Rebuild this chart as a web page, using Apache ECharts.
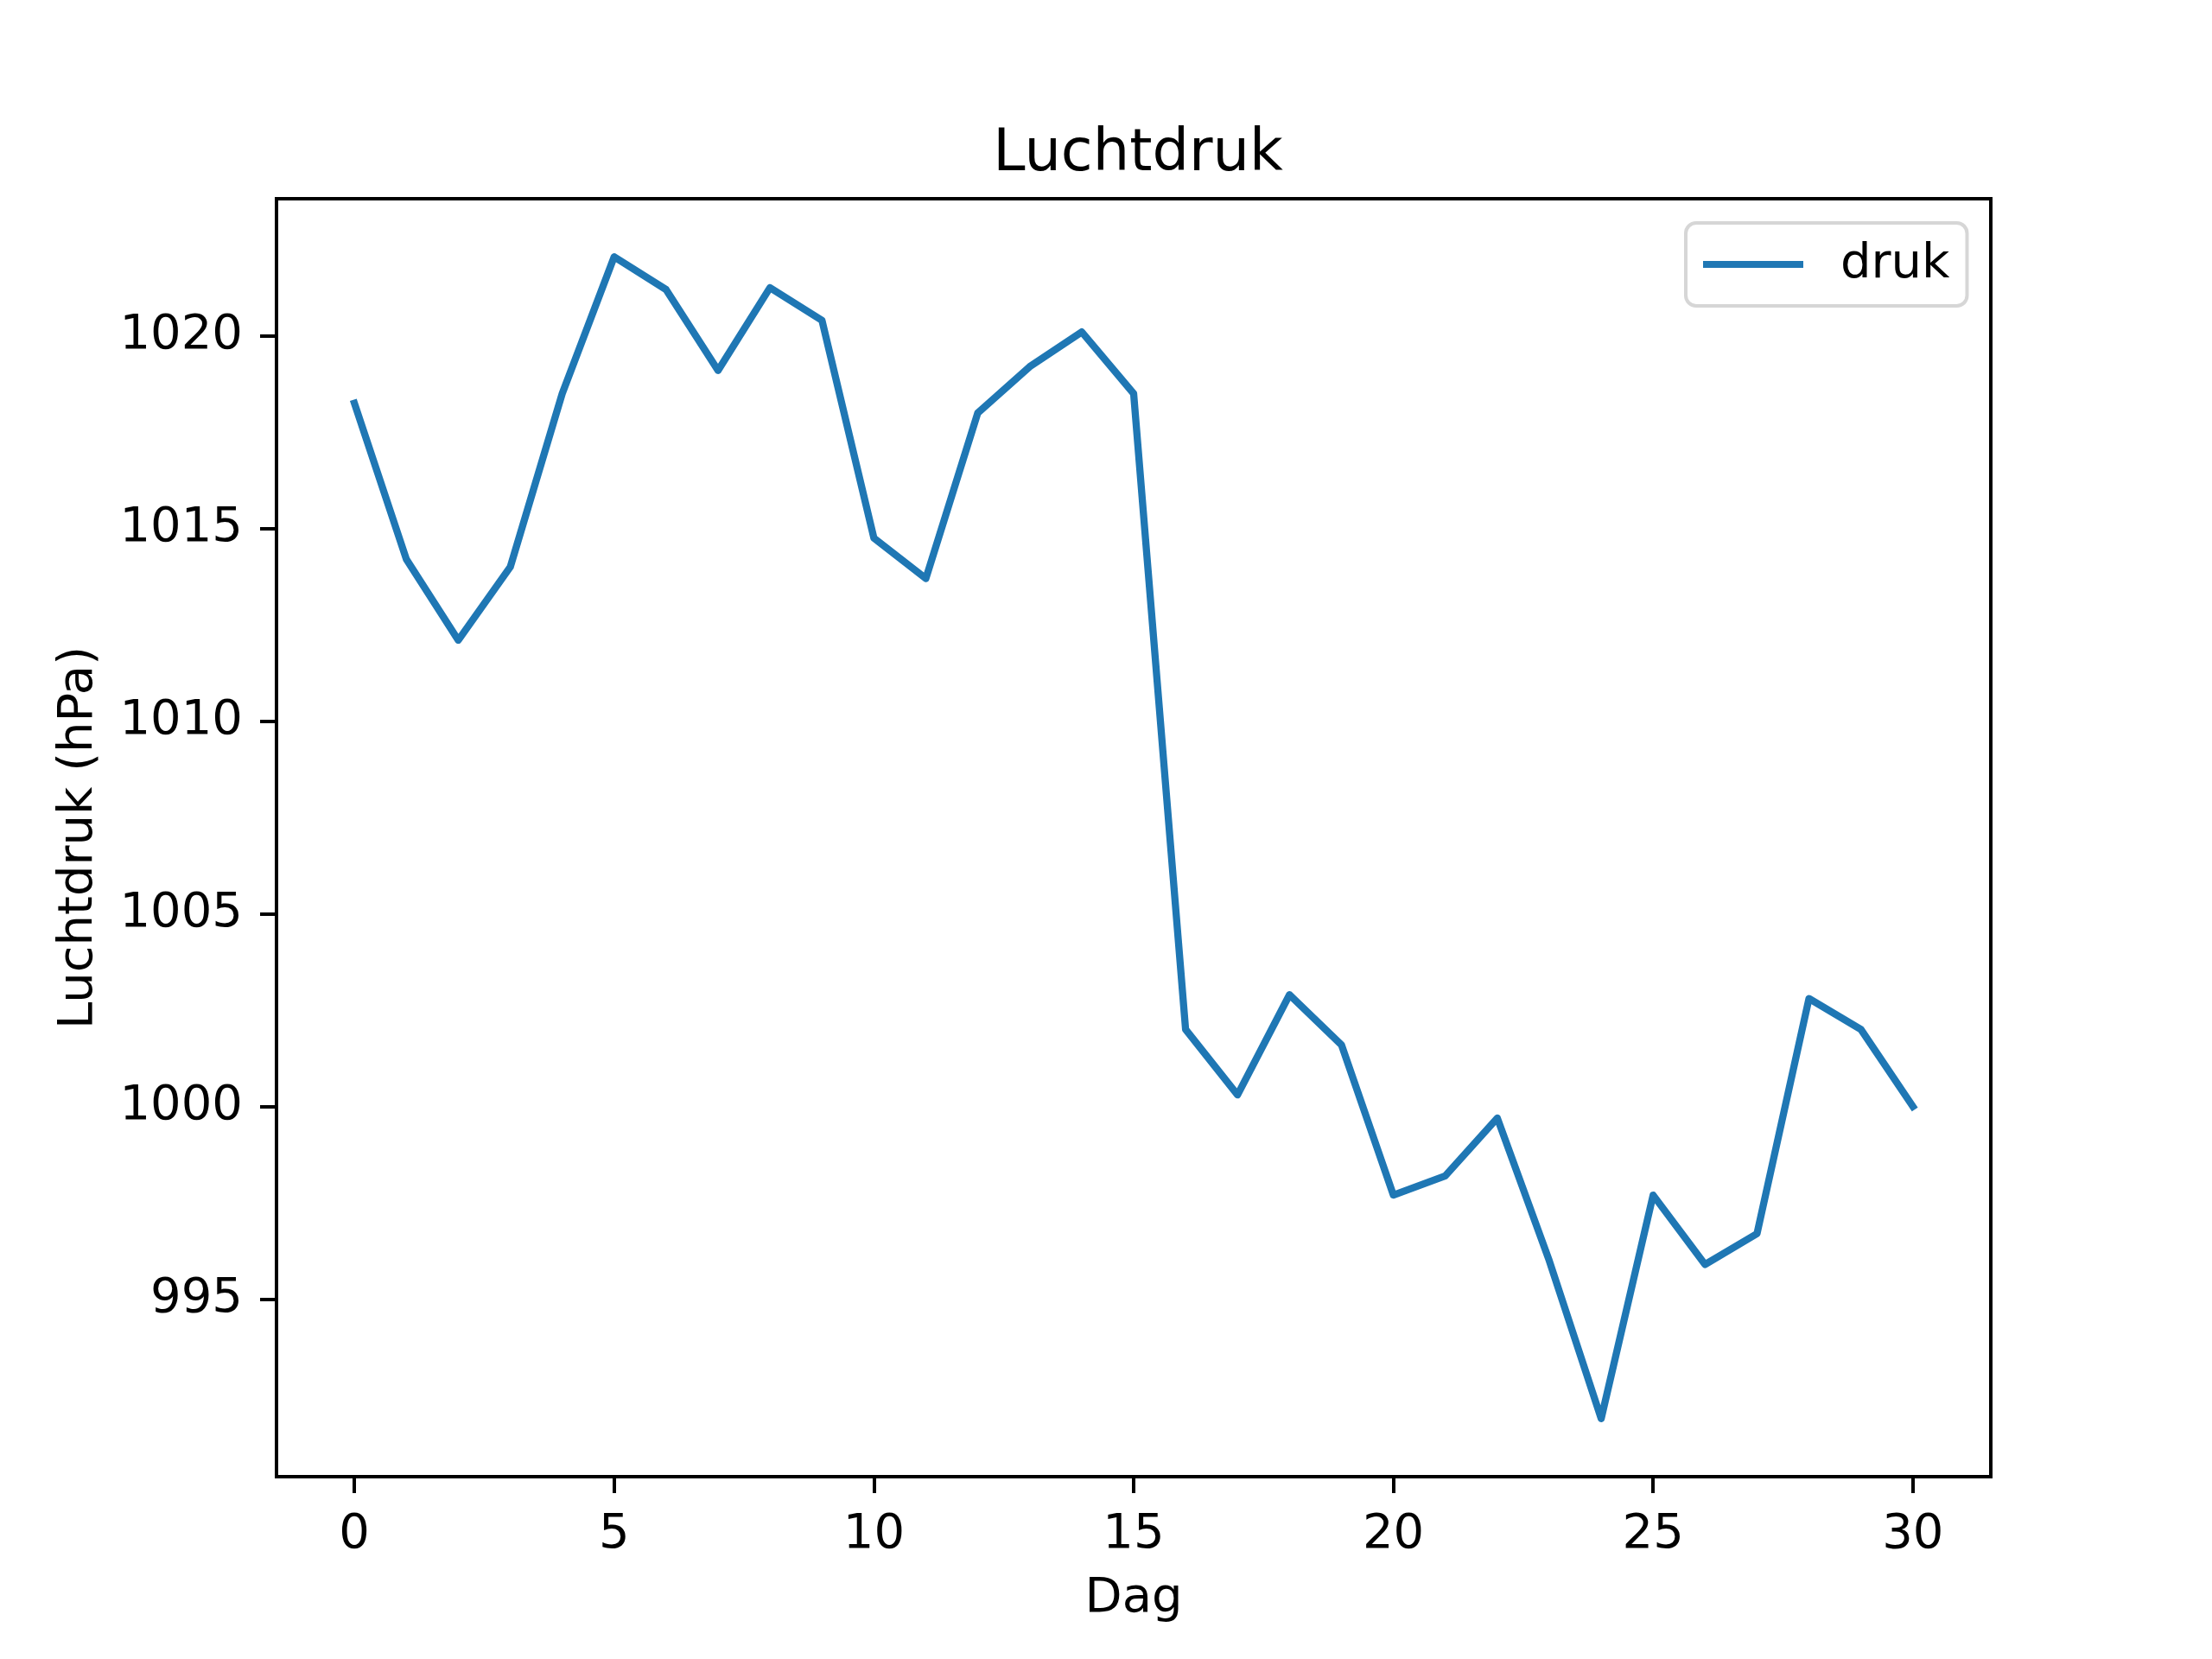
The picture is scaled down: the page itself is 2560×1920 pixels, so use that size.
<!DOCTYPE html>
<html>
<head>
<meta charset="utf-8">
<script src="https://cdn.jsdelivr.net/npm/echarts@6/dist/echarts.min.js"></script>
<style>
html,body{margin:0;padding:0;background:#fff;}
#chart{width:2560px;height:1920px;}
</style>
</head>
<body>
<div id="chart"></div>
<script>
const days = [0,1,2,3,4,5,6,7,8,9,10,11,12,13,14,15,16,17,18,19,20,21,22,23,24,25,26,27,28,29,30];
const druk = [1018.25,1014.2,1012.1,1014.0,1018.5,1022.05,1021.2,1019.1,1021.25,1020.4,1014.75,1013.7,1018.0,1019.2,1020.1,1018.5,1002.0,1000.3,1002.9,1001.6,997.7,998.2,999.7,996.0,991.9,997.7,995.9,996.7,1002.8,1002.0,1000.0];
const xTicks = [0,5,10,15,20,25,30];
const yTicks = [995,1000,1005,1010,1015,1020];
const seriesName = 'druk';
const titleText = 'Luchtdruk';
const xName = 'Dag';
const yName = 'Luchtdruk (hPa)';

const pts = days.map((d,i)=>[d, druk[i]]);
const xMinD = Math.min(...days), xMaxD = Math.max(...days);
const yMinD = Math.min(...druk), yMaxD = Math.max(...druk);
const xm = (xMaxD-xMinD)*0.05, ym = (yMaxD-yMinD)*0.05;

const font = 'DejaVu Sans';
const chart = echarts.init(document.getElementById('chart'), null, {renderer:'canvas'});
chart.setOption({
  animation:false,
  backgroundColor:'#ffffff',
  title:{text:titleText,left:1312,top:141,textAlign:'center',
    textStyle:{fontFamily:font,fontSize:67,fontWeight:'normal',color:'#000'}},
  legend:{
    left:1951, top:258,
    orient:'vertical',
    backgroundColor:'#ffffff',
    borderColor:'#d6d6d6', borderWidth:4, borderRadius:12,
    padding:[20,20,20,20],
    itemWidth:116, itemHeight:8,
    icon:'rect',
    textStyle:{fontFamily:font,fontSize:56,color:'#000',padding:[0,0,0,38]},
    data:[{name:seriesName}]
  },
  grid:{left:320,right:256,top:230,bottom:211,show:true,borderColor:'#000',borderWidth:4,backgroundColor:'transparent'},
  xAxis:{
    type:'value', min:xMinD-xm, max:xMaxD+xm,
    name:xName, nameLocation:'middle', nameGap:113,
    nameTextStyle:{fontFamily:font,fontSize:56,color:'#000'},
    splitLine:{show:false},
    axisLine:{show:true,onZero:false,lineStyle:{color:'#000',width:4}},
    axisTick:{show:true,length:19,lineStyle:{color:'#000',width:4},customValues:xTicks},
    axisLabel:{margin:39,fontFamily:font,fontSize:56,color:'#000',customValues:xTicks,formatter:v=>String(v)}
  },
  yAxis:{
    type:'value', min:yMinD-ym, max:yMaxD+ym,
    name:yName, nameLocation:'middle', nameGap:201, nameRotate:90,
    nameTextStyle:{fontFamily:font,fontSize:56,color:'#000'},
    splitLine:{show:false},
    axisLine:{show:true,onZero:false,lineStyle:{color:'#000',width:4}},
    axisTick:{show:true,length:19,lineStyle:{color:'#000',width:4},customValues:yTicks},
    axisLabel:{margin:39,fontFamily:font,fontSize:56,color:'#000',customValues:yTicks,formatter:v=>String(v)}
  },
  series:[{
    name:seriesName, type:'line', data:pts,
    symbol:'none', showSymbol:false,
    color:'#1f77b4',
    lineStyle:{color:'#1f77b4',width:8.3,cap:'square',join:'round'}
  }]
});
</script>
</body>
</html>
